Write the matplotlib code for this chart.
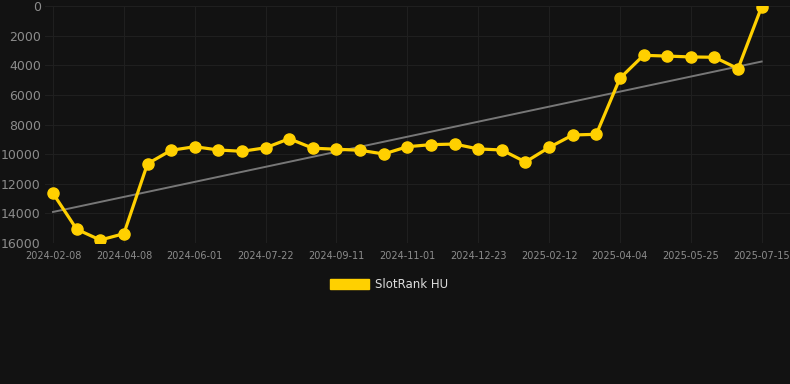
import matplotlib

matplotlib.use("Agg")
import matplotlib.pyplot as plt
import numpy as np
from matplotlib.patches import Patch

# rank values per sample (lower is better, axis inverted)
ranks = [12650, 15070, 15800, 15370, 10650, 9740, 9500, 9720, 9810, 9570,
         8960, 9600, 9670, 9740, 9990, 9500, 9360, 9320, 9650, 9720,
         10530, 9550, 8710, 8660, 4880, 3330, 3380, 3440, 3460, 4230, 50]
tick_labels = ["2024-02-08", "2024-04-08", "2024-06-01", "2024-07-22",
               "2024-09-11", "2024-11-01", "2024-12-23", "2025-02-12",
               "2025-04-04", "2025-05-25", "2025-07-15"]
y_ticks = [0, 2000, 4000, 6000, 8000, 10000, 12000, 14000, 16000]
series_name = "SlotRank HU"

BG = "#121212"
GOLD = "#ffd000"

x = np.arange(len(ranks))
slope, intercept = np.polyfit(x, ranks, 1)

fig = plt.figure(figsize=(7.9, 3.84), dpi=100, facecolor=BG)
ax = fig.add_axes([45 / 790, 141 / 384, 745 / 790, 237 / 384], facecolor=BG)

ax.plot(x, slope * x + intercept, color="#777777", lw=1.4, zorder=2)
ax.plot(x, ranks, color=GOLD, lw=2.3, marker="o", ms=8, zorder=3)

ax.set_ylim(16000, 0)
ax.set_xlim(-0.34, len(ranks) - 1 + 1.2)
ax.set_yticks(y_ticks)
ax.set_yticklabels([str(v) for v in y_ticks])
ax.set_xticks(x[::3])
ax.set_xticklabels(tick_labels)

ax.grid(True, color="#1f1f1f", lw=0.8)
ax.set_axisbelow(True)
for s in ax.spines.values():
    s.set_visible(False)
ax.tick_params(axis="y", length=0, pad=3, labelsize=9, labelcolor="#8c8c8c")
ax.tick_params(axis="x", length=0, pad=6, labelsize=7, labelcolor="#8c8c8c")

fig.legend(handles=[Patch(color=GOLD, label=series_name)], loc="center",
           bbox_to_anchor=(0.492, 0.258), frameon=False, fontsize=8.5,
           labelcolor="#dddddd", handlelength=3.3, handleheight=0.9,
           handletextpad=0.5)

fig.savefig("out.png", dpi=100, facecolor=BG)
